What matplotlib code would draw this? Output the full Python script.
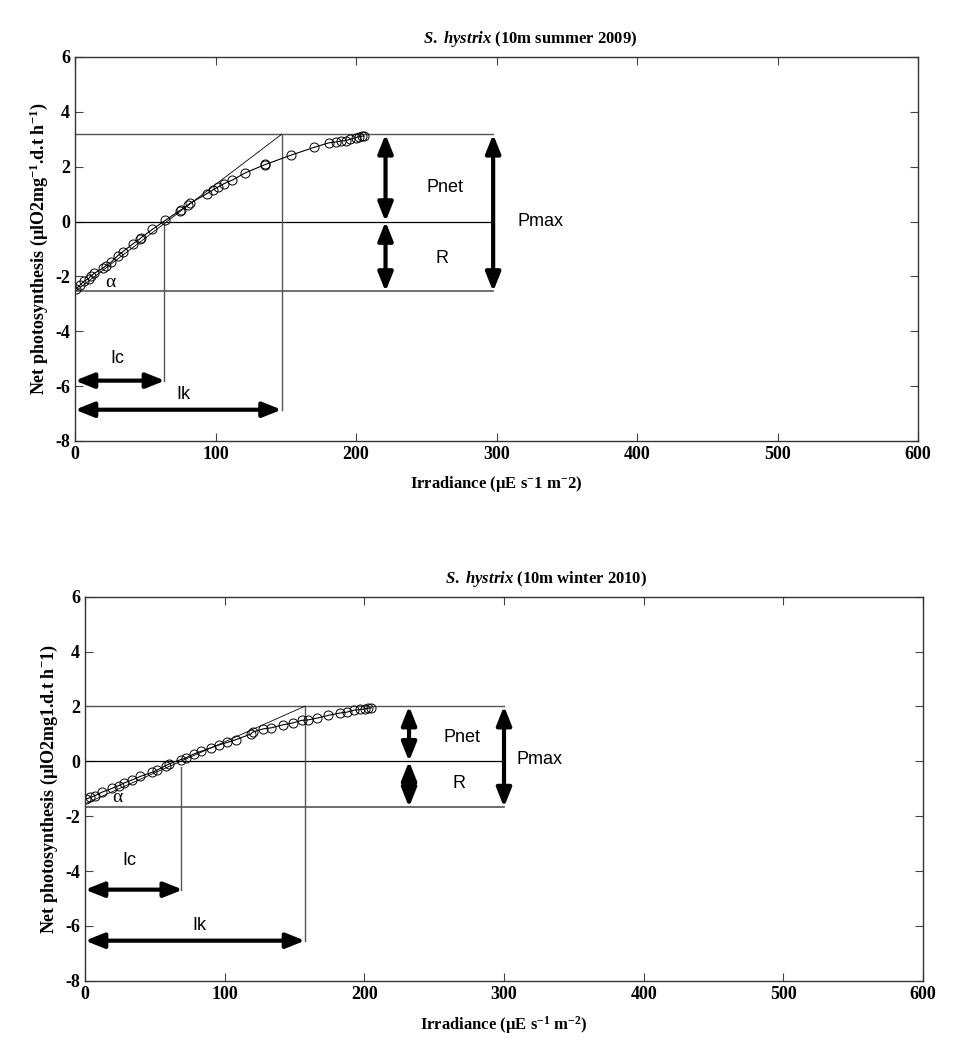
import numpy as np
import matplotlib.pyplot as plt
from matplotlib.patches import FancyArrowPatch

plt.rcParams["font.family"] = ["Liberation Serif", "DejaVu Serif"]
plt.rcParams["mathtext.fontset"] = "custom"
plt.rcParams["mathtext.rm"] = "Liberation Serif:bold"
plt.rcParams["mathtext.it"] = "Liberation Serif:bold:italic"
plt.rcParams["mathtext.bf"] = "Liberation Serif:bold"
plt.rcParams["axes.unicode_minus"] = False

# summer 2009
irr_sum = [0.5, 3.6, 6.5, 9.7, 11.2, 13.6, 19.6, 22, 25.6, 30.3, 34, 41, 46, 47,
           54.9, 64.2, 74.5, 75.6, 80.4, 82, 93.6, 98.4, 101.9, 106, 111.5, 121,
           134.9, 135.5, 153.7, 169.9, 180.7, 185.5, 189, 192.6, 196, 199.7, 202,
           204, 205.7]
pn_sum = [-2.46, -2.32, -2.17, -2.08, -1.98, -1.89, -1.71, -1.61, -1.49, -1.25,
          -1.10, -0.82, -0.64, -0.59, -0.29, 0.04, 0.40, 0.43, 0.61, 0.67, 1.01,
          1.16, 1.26, 1.38, 1.50, 1.77, 2.07, 2.08, 2.42, 2.70, 2.87, 2.90, 2.93,
          2.95, 3.00, 3.06, 3.09, 3.11, 3.12]

# winter 2010
irr_win = [0.7, 3.6, 7.2, 12, 19.2, 24, 27.6, 33.7, 39.7, 48.1, 51.7, 57.7, 60,
           68.5, 72, 78.1, 82.9, 90.1, 96.1, 102, 108.1, 119, 120, 127.4, 133.4,
           141.8, 149, 155, 159.8, 165.8, 173.8, 182.6, 187.4, 192.3, 197.1, 200.2,
           202.6, 205]
pn_win = [-1.38, -1.32, -1.25, -1.13, -0.99, -0.89, -0.80, -0.68, -0.55, -0.40,
          -0.32, -0.16, -0.10, 0.06, 0.12, 0.27, 0.36, 0.49, 0.60, 0.69, 0.79, 1.00,
          1.06, 1.18, 1.22, 1.33, 1.40, 1.49, 1.51, 1.57, 1.67, 1.76, 1.79, 1.86,
          1.89, 1.91, 1.93, 1.95]

# parameters: Pmax level, R level, Ic, Ik, alpha line start
pmax_sum, r_sum, ic_sum, ik_sum, a0_sum = 3.18, -2.55, 63.5, 147, -2.55
pmax_win, r_win, ic_win, ik_win, a0_win = 2.01, -1.67, 68.7, 157.5, -1.55

xticks = [0, 100, 200, 300, 400, 500, 600]
yticks = [-8, -6, -4, -2, 0, 2, 4, 6]

GREY = "#555555"


def darrow(ax, p0, p1):
    ax.add_patch(FancyArrowPatch(p0, p1,
                                 arrowstyle="<|-|>,head_length=0.75,head_width=0.3",
                                 mutation_scale=15, lw=3.0, color="black",
                                 shrinkA=0, shrinkB=0, zorder=5))


def panel(ax, irr, pn, pmax, r, ic, ik, a0, ic_stop, x_pnet, x_pmax,
          y_ic, y_ik, lab_ic, lab_ik, lab_pnet, lab_r, lab_pmax, lab_a,
          ic_top):
    # reference lines
    ax.plot([0, x_pmax], [pmax, pmax], color=GREY, lw=1)
    ax.plot([0, x_pmax], [0, 0], color="black", lw=0.9)
    ax.plot([0, x_pmax], [r, r], color=GREY, lw=1.2)
    ax.plot([ic, ic], [ic_top, y_ic], color=GREY, lw=1)
    ax.plot([ik, ik], [pmax, y_ik], color=GREY, lw=1)
    ax.plot([0, ik], [a0, pmax], color="black", lw=0.6)
    # data
    ax.plot(irr, pn, "-o", color="black", lw=0.8, ms=6.5, mfc="none", mew=0.7)
    # arrows
    darrow(ax, (x_pnet, 0), (x_pnet, pmax))
    darrow(ax, (x_pnet, r), (x_pnet, 0))
    darrow(ax, (x_pmax, r), (x_pmax, pmax))
    darrow(ax, (0, y_ic), (ic_stop, y_ic))
    darrow(ax, (0, y_ik), (ik, y_ik))
    # labels
    kw = dict(family="Liberation Sans", fontsize=13, ha="center", va="center")
    ax.text(*lab_ic, "Ic", **kw)
    ax.text(*lab_ik, "Ik", **kw)
    ax.text(*lab_pnet, "Pnet", **kw)
    ax.text(*lab_r, "R", **kw)
    ax.text(lab_pmax[0], lab_pmax[1], "Pmax", family="Liberation Sans",
            fontsize=13, ha="left", va="center")
    ax.text(*lab_a, "α", fontsize=14, ha="center", va="center")

    ax.set_xlim(0, 600)
    ax.set_ylim(-8, 6)
    ax.set_xticks(xticks)
    ax.set_yticks(yticks)
    ax.tick_params(direction="in", top=True, right=True, length=6,
                   labelsize=13, color="#444444")
    for lb in ax.get_xticklabels() + ax.get_yticklabels():
        lb.set_fontweight("bold")
    for s in ax.spines.values():
        s.set_color("#333333")
        s.set_linewidth(1)


fig = plt.figure(figsize=(9.73, 10.45), dpi=100)
ax1 = fig.add_axes([0.0771, 0.578, 0.8664, 0.3675])
ax2 = fig.add_axes([0.0874, 0.0615, 0.8612, 0.3675])

panel(ax1, irr_sum, pn_sum, pmax_sum, r_sum, ic_sum, ik_sum, a0_sum,
      ic_stop=64, x_pnet=221, x_pmax=297.6, y_ic=-5.8, y_ik=-6.86,
      lab_ic=(30, -5.0), lab_ik=(77, -6.3), lab_pnet=(263, 1.25),
      lab_r=(261, -1.36), lab_pmax=(315, 0), lab_a=(25, -2.22), ic_top=0)
panel(ax2, irr_win, pn_win, pmax_win, r_win, ic_win, ik_win, a0_win,
      ic_stop=70, x_pnet=232, x_pmax=300, y_ic=-4.68, y_ik=-6.54,
      lab_ic=(32, -3.6), lab_ik=(82, -6.0), lab_pnet=(270, 0.88),
      lab_r=(268, -0.8), lab_pmax=(309, 0.05), lab_a=(23, -1.33), ic_top=-0.2)

ax1.set_title(r"$\it{S.\ hystrix}$ (10m summer 2009)", fontsize=12,
              fontweight="bold", x=0.54, pad=10)
ax2.set_title(r"$\it{S.\ hystrix}$ (10m winter 2010)", fontsize=12,
              fontweight="bold", x=0.55, pad=10)

ax1.set_ylabel(r"Net photosynthesis (µlO2mg$^{-1}$.d.t h$^{-1}$)",
               fontsize=13, fontweight="bold", labelpad=4)
ax2.set_ylabel(r"Net photosynthesis (µlO2mg1.d.t h$^{-}$1)",
               fontsize=13, fontweight="bold", labelpad=4)
ax1.set_xlabel(r"Irradiance (µE s$^{-}$1 m$^{-}$2)", fontsize=12,
               fontweight="bold", labelpad=8)
ax2.set_xlabel(r"Irradiance (µE s$^{-1}$ m$^{-2}$)", fontsize=12,
               fontweight="bold", labelpad=8)

fig.savefig("out.png", dpi=100)
